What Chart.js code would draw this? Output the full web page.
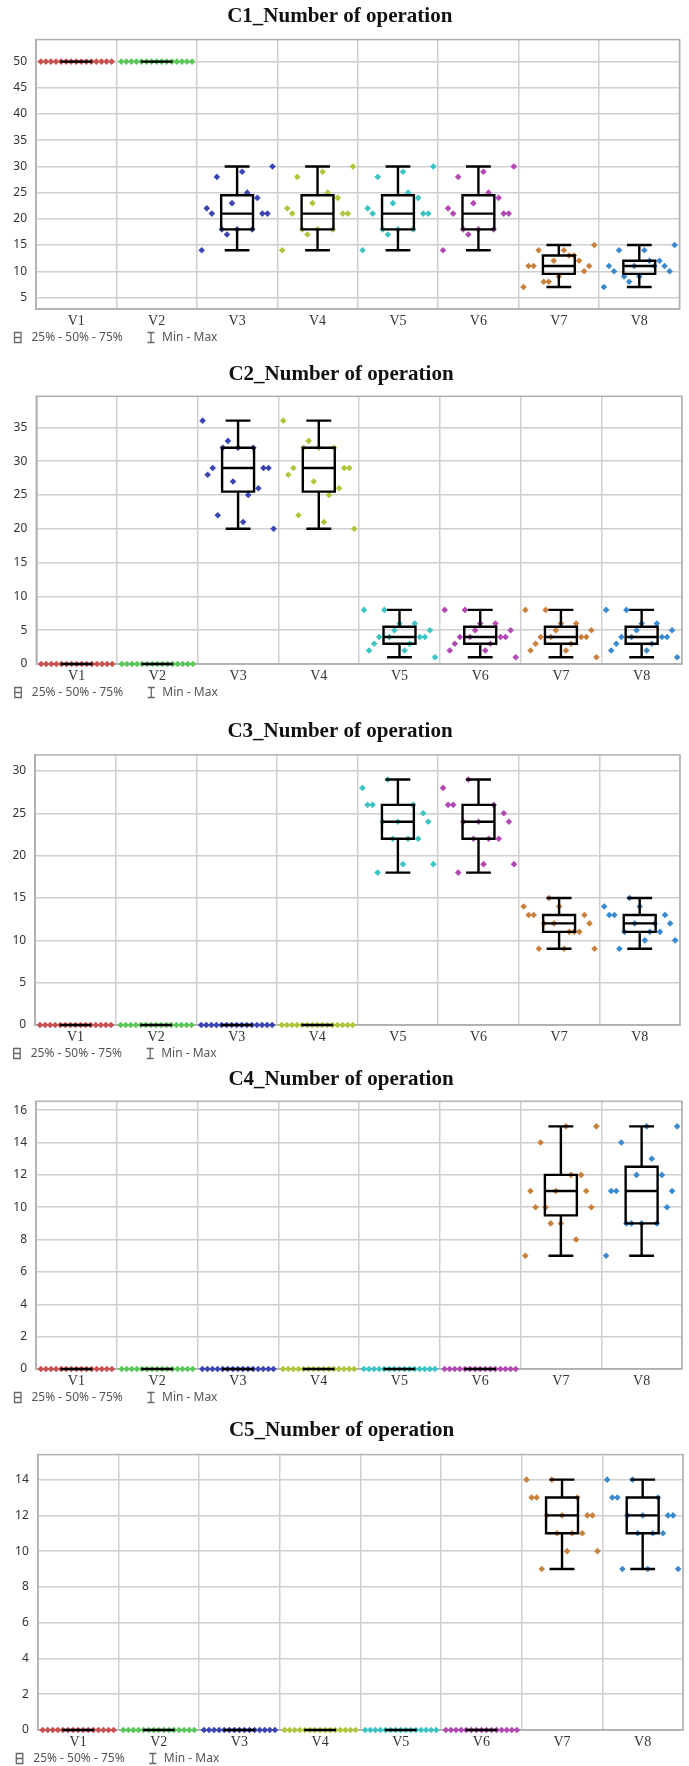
<!DOCTYPE html>
<html>
<head>
<meta charset="utf-8">
<script src="https://cdn.jsdelivr.net/npm/chart.js@4.4.1/dist/chart.umd.min.js"></script>
<style>
  html, body { margin: 0; padding: 0; background: #fff; overflow: hidden; }
  #page { position: relative; width: 689px; height: 1766px; overflow: hidden; }
  .panel { position: absolute; left: 0; }
</style>
</head>
<body>
<div id="page"></div>
<script>
const categories = ['V1', 'V2', 'V3', 'V4', 'V5', 'V6', 'V7', 'V8'];
const titles = ['C1_Number of operation', 'C2_Number of operation', 'C3_Number of operation',
  'C4_Number of operation', 'C5_Number of operation'];
const legendLabels = ['25% - 50% - 75%', 'Min - Max'];

// values per variable, in the order the dots are spread across each column
const c1Values = [
  [50, 50, 50, 50, 50, 50, 50, 50, 50, 50, 50, 50, 50, 50, 50],
  [50, 50, 50, 50, 50, 50, 50, 50, 50, 50, 50, 50, 50, 50, 50],
  [14, 22, 21, 28, 18, 17, 23, 18, 29, 25, 18, 24, 21, 21, 30],
  [14, 22, 21, 28, 18, 17, 23, 18, 29, 25, 18, 24, 21, 21, 30],
  [14, 22, 21, 28, 18, 17, 23, 18, 29, 25, 18, 24, 21, 21, 30],
  [14, 22, 21, 28, 18, 17, 23, 18, 29, 25, 18, 24, 21, 21, 30],
  [7, 11, 11, 14, 8, 8, 12, 9, 14, 13, 13, 12, 10, 11, 15],
  [7, 11, 10, 14, 9, 8, 11, 9, 14, 12, 11, 12, 11, 10, 15]
];
const c2Values = [
  [0, 0, 0, 0, 0, 0, 0, 0, 0, 0, 0, 0, 0, 0, 0],
  [0, 0, 0, 0, 0, 0, 0, 0, 0, 0, 0, 0, 0, 0, 0],
  [36, 28, 29, 22, 32, 33, 27, 32, 21, 25, 32, 26, 29, 29, 20],
  [36, 28, 29, 22, 32, 33, 27, 32, 21, 25, 32, 26, 29, 29, 20],
  [8, 2, 3, 4, 8, 4, 5, 6, 2, 3, 6, 4, 4, 5, 1],
  [8, 2, 3, 4, 8, 4, 5, 6, 2, 3, 6, 4, 4, 5, 1],
  [8, 2, 3, 4, 8, 4, 5, 6, 2, 3, 6, 4, 4, 5, 1],
  [8, 2, 3, 4, 8, 4, 5, 6, 2, 3, 6, 4, 4, 5, 1]
];
const c3Values = [
  [0, 0, 0, 0, 0, 0, 0, 0, 0, 0, 0, 0, 0, 0, 0],
  [0, 0, 0, 0, 0, 0, 0, 0, 0, 0, 0, 0, 0, 0, 0],
  [0, 0, 0, 0, 0, 0, 0, 0, 0, 0, 0, 0, 0, 0, 0],
  [0, 0, 0, 0, 0, 0, 0, 0, 0, 0, 0, 0, 0, 0, 0],
  [28, 26, 26, 18, 24, 29, 22, 24, 19, 22, 26, 22, 25, 24, 19],
  [28, 26, 26, 18, 24, 29, 22, 24, 19, 22, 26, 22, 25, 24, 19],
  [14, 13, 13, 9, 12, 15, 12, 14, 9, 11, 11, 11, 13, 12, 9],
  [14, 13, 13, 9, 11, 15, 12, 14, 10, 11, 12, 11, 13, 12, 10]
];
const c4Values = [
  [0, 0, 0, 0, 0, 0, 0, 0, 0, 0, 0, 0, 0, 0, 0],
  [0, 0, 0, 0, 0, 0, 0, 0, 0, 0, 0, 0, 0, 0, 0],
  [0, 0, 0, 0, 0, 0, 0, 0, 0, 0, 0, 0, 0, 0, 0],
  [0, 0, 0, 0, 0, 0, 0, 0, 0, 0, 0, 0, 0, 0, 0],
  [0, 0, 0, 0, 0, 0, 0, 0, 0, 0, 0, 0, 0, 0, 0],
  [0, 0, 0, 0, 0, 0, 0, 0, 0, 0, 0, 0, 0, 0, 0],
  [7, 11, 10, 14, 10, 9, 11, 9, 15, 12, 8, 12, 11, 10, 15],
  [7, 11, 11, 14, 9, 9, 12, 9, 15, 13, 9, 12, 10, 11, 15]
];
const c5Values = [
  [0, 0, 0, 0, 0, 0, 0, 0, 0, 0, 0, 0, 0, 0, 0],
  [0, 0, 0, 0, 0, 0, 0, 0, 0, 0, 0, 0, 0, 0, 0],
  [0, 0, 0, 0, 0, 0, 0, 0, 0, 0, 0, 0, 0, 0, 0],
  [0, 0, 0, 0, 0, 0, 0, 0, 0, 0, 0, 0, 0, 0, 0],
  [0, 0, 0, 0, 0, 0, 0, 0, 0, 0, 0, 0, 0, 0, 0],
  [0, 0, 0, 0, 0, 0, 0, 0, 0, 0, 0, 0, 0, 0, 0],
  [14, 13, 13, 9, 12, 14, 11, 12, 10, 11, 13, 11, 12, 12, 10],
  [14, 13, 13, 9, 12, 14, 11, 12, 9, 11, 13, 11, 12, 12, 9]
];

// y axis ranges and tick steps
const yMins = [2.8, 0, 0, 0, 0];
const yMaxs = [54.2, 39.6, 31.9, 16.55, 15.4];
const ySteps = [5, 5, 5, 2, 2];

const allValues = [c1Values, c2Values, c3Values, c4Values, c5Values];

const colors = ['#c9504f', '#5bc65b', '#3a45b3', '#b2c43c', '#3cc4c4', '#b248b2', '#c9823e', '#3a8ad0'];
const gridColor = '#cfcfcf';
const frameColor = '#b0b0b0';

// panel geometry: title centre, plot top/bottom/left/right
const layoutBoxes = [
  { title: 17, top: 40, bottom: 309, left: 36, right: 679.5 },
  { title: 375, top: 396.7, bottom: 664, left: 36.3, right: 682 },
  { title: 731.7, top: 755, bottom: 1025, left: 35.2, right: 680 },
  { title: 1080, top: 1101.7, bottom: 1369.3, left: 36, right: 682 },
  { title: 1431, top: 1455, bottom: 1730.7, left: 37.8, right: 683 }
];

const spread = 0.88;   // share of a column covered by the dots
const boxHalf = 0.198; // half box width, in columns
const capHalf = 0.154; // half whisker cap width

function quantile(sorted, p) {
  const pos = (sorted.length - 1) * p;
  const lo = Math.floor(pos), hi = Math.ceil(pos);
  return sorted[lo] + (sorted[hi] - sorted[lo]) * (pos - lo);
}

// plot frame (top and right edges are not drawn by the axes)
const framePlugin = {
  id: 'frame',
  beforeDatasetsDraw(chart) {
    const { ctx, chartArea: a } = chart;
    ctx.save();
    ctx.strokeStyle = frameColor;
    ctx.lineWidth = 1.5;
    ctx.strokeRect(a.left, a.top, a.right - a.left, a.bottom - a.top);
    ctx.restore();
  }
};

// box and whiskers computed from each dataset's values
const boxPlugin = {
  id: 'boxes',
  afterDatasetsDraw(chart) {
    const { ctx, scales: { x, y } } = chart;
    ctx.save();
    ctx.strokeStyle = '#000';
    ctx.lineWidth = 2.4;
    chart.data.datasets.forEach((ds, i) => {
      const s = ds.data.map(p => p.y).sort((a, b) => a - b);
      const c = i + 1;
      const xc = x.getPixelForValue(c);
      const xl = x.getPixelForValue(c - boxHalf), xr = x.getPixelForValue(c + boxHalf);
      const cl = x.getPixelForValue(c - capHalf), cr = x.getPixelForValue(c + capHalf);
      const yLo = y.getPixelForValue(s[0]);
      const yHi = y.getPixelForValue(s[s.length - 1]);
      const yQ1 = y.getPixelForValue(quantile(s, 0.25));
      const yMed = y.getPixelForValue(quantile(s, 0.5));
      const yQ3 = y.getPixelForValue(quantile(s, 0.75));
      ctx.beginPath();
      ctx.moveTo(xc, yHi); ctx.lineTo(xc, yQ3);
      ctx.moveTo(xc, yQ1); ctx.lineTo(xc, yLo);
      ctx.moveTo(cl, yHi); ctx.lineTo(cr, yHi);
      ctx.moveTo(cl, yLo); ctx.lineTo(cr, yLo);
      ctx.moveTo(xl, yMed); ctx.lineTo(xr, yMed);
      ctx.rect(xl, yQ3, xr - xl, yQ1 - yQ3);
      ctx.stroke();
    });
    ctx.restore();
  }
};

// "25% - 50% - 75%" / "Min - Max" key under each plot
const keyPlugin = {
  id: 'statKey',
  afterDraw(chart) {
    const { ctx, chartArea: a } = chart;
    const yc = a.bottom + 28.5;
    const x0 = a.left - 21.5;
    ctx.save();
    ctx.strokeStyle = '#666';
    ctx.lineWidth = 1.3;
    ctx.beginPath();
    ctx.rect(x0, yc - 5, 6.5, 10);
    ctx.moveTo(x0, yc); ctx.lineTo(x0 + 6.5, yc);
    const ix = x0 + 136.5;
    ctx.moveTo(ix - 3.5, yc - 5); ctx.lineTo(ix + 3.5, yc - 5);
    ctx.moveTo(ix, yc - 5); ctx.lineTo(ix, yc + 5);
    ctx.moveTo(ix - 3.5, yc + 5); ctx.lineTo(ix + 3.5, yc + 5);
    ctx.stroke();
    ctx.fillStyle = '#555';
    ctx.font = '12px "Noto Sans", sans-serif';
    ctx.textBaseline = 'middle';
    ctx.fillText(legendLabels[0], x0 + 17, yc);
    ctx.fillText(legendLabels[1], ix + 11, yc);
    ctx.restore();
  }
};

const page = document.getElementById('page');

allValues.forEach((values, k) => {
  const box = layoutBoxes[k];
  const top = box.title - 14.6;
  const height = Math.round(box.bottom - top + 40);
  const holder = document.createElement('div');
  holder.className = 'panel';
  holder.style.top = top + 'px';
  const canvas = document.createElement('canvas');
  canvas.width = 689;
  canvas.height = height;
  holder.appendChild(canvas);
  page.appendChild(holder);

  const datasets = values.map((vals, i) => ({
    label: categories[i],
    data: vals.map((v, j) => ({ x: i + 1 - spread / 2 + j * spread / (vals.length - 1), y: v })),
    backgroundColor: colors[i],
    pointStyle: 'rectRot',
    pointRadius: 3.3,
    pointBorderWidth: 0,
    pointHoverRadius: 3.3,
    showLine: false,
    clip: false
  }));

  new Chart(canvas, {
    type: 'scatter',
    data: { datasets },
    plugins: [framePlugin, boxPlugin, keyPlugin],
    options: {
      responsive: false,
      animation: false,
      layout: { padding: { top: 0, left: 0, right: 689 - box.right, bottom: 18 } },
      plugins: {
        legend: { display: false },
        tooltip: { enabled: false },
        title: {
          display: true,
          text: titles[k],
          color: '#111',
          font: { family: '"Liberation Serif", "Times New Roman", serif', size: 21, weight: 'bold' },
          padding: { top: 2, bottom: box.top - top - 27.2 }
        }
      },
      scales: {
        x: { type: 'linear', min: 0.5, max: 8.5, display: false },
        xc: {
          type: 'category',
          labels: categories,
          position: 'bottom',
          offset: true,
          grid: { offset: true, color: gridColor, lineWidth: 1.5, drawTicks: false },
          border: { color: frameColor, width: 1.5 },
          ticks: {
            color: '#333',
            padding: 4,
            font: { family: '"Liberation Serif", "Times New Roman", serif', size: 14 }
          },
          afterFit: s => { s.height = 22; }
        },
        y: {
          min: yMins[k],
          max: yMaxs[k],
          grid: { color: gridColor, lineWidth: 1.5, drawTicks: false },
          border: { color: frameColor, width: 1.5 },
          ticks: {
            stepSize: ySteps[k],
            includeBounds: false,
            color: '#333',
            padding: 9,
            font: { family: '"Noto Sans", sans-serif', size: 12 }
          },
          afterFit: s => { s.width = box.left; }
        }
      }
    }
  });
});
</script>
</body>
</html>
